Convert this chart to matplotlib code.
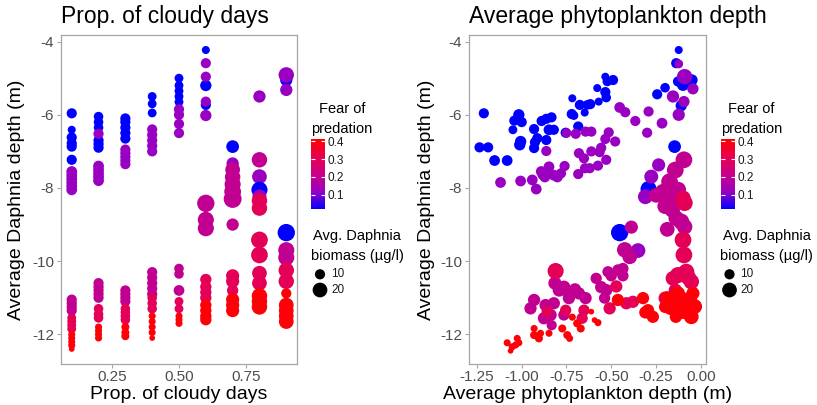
import numpy as np
import matplotlib
matplotlib.use('Agg')
import matplotlib.pyplot as plt
from matplotlib.colors import LinearSegmentedColormap, Normalize
from matplotlib.cm import ScalarMappable

plt.rcParams['font.family'] = ['Liberation Sans', 'DejaVu Sans']

# ---------------- data: left panel (by cloudy-days level) ----------------
cloudy_levels = [0.1, 0.2, 0.3, 0.4, 0.5, 0.6, 0.7, 0.8, 0.9]
cloudy_depth = [
    [-5.96, -6.41, -6.62, -6.78, -6.87, -7.23, -7.55, -7.65, -7.75, -7.85, -7.95, -8.05,
     -11.05, -11.15, -11.25, -11.35, -11.55, -11.65, -11.75, -11.85, -12.0, -12.1, -12.2, -12.3, -12.4],
    [-6.05, -6.2, -6.35, -6.7, -6.8, -6.9, -6.52, -7.4, -7.5, -7.6, -7.7, -7.8,
     -10.6, -10.7, -10.8, -10.9, -11.0, -11.3, -11.45, -11.55, -11.8, -11.9, -12.0, -12.1],
    [-6.1, -6.2, -6.35, -6.5, -6.65, -6.95, -7.05, -7.15, -7.25, -7.35,
     -10.8, -10.9, -11.0, -11.1, -11.3, -11.4, -11.5, -11.6, -11.8, -11.95, -12.05],
    [-5.5, -5.7, -5.95, -6.4, -6.55, -6.7, -6.85, -7.0,
     -10.3, -10.45, -10.6, -10.75, -10.9, -11.0, -11.15, -11.3, -11.5, -11.65, -11.8, -11.95, -12.1],
    [-5.0, -5.2, -5.35, -5.5, -5.65, -5.85, -6.0, -6.25, -6.5,
     -10.2, -10.35, -10.8, -11.1, -11.3, -11.5, -11.6, -11.7],
    [-4.23, -5.2, -5.73, -4.59, -4.96, -5.64, -6.02, -8.42, -8.87, -9.1,
     -10.5, -10.7, -10.85, -11.0, -11.2, -11.35, -11.5, -11.6],
    [-6.87, -7.33, -7.5, -7.7, -7.9, -8.1, -8.3, -9.0, -10.4, -10.55, -10.8, -11.05, -11.2, -11.35],
    [-5.5, -7.23, -7.69, -8.05, -8.23, -8.35, -8.55, -9.42, -9.83, -10.33, -10.6, -10.95, -11.1, -11.25],
    [-5.05, -4.91, -5.32, -9.22, -9.7, -9.9, -10.25, -10.55, -10.88, -11.2, -11.35, -11.5, -11.65],
]
cloudy_fear = [
    [0.02] * 6 + [0.12] * 6 + [0.2] * 4 + [0.3] * 4 + [0.4] * 5,
    [0.02] * 6 + [0.12] * 6 + [0.2] * 5 + [0.3] * 3 + [0.4] * 4,
    [0.02] * 5 + [0.12] * 5 + [0.2] * 4 + [0.3] * 4 + [0.4] * 3,
    [0.02] * 3 + [0.12] * 5 + [0.2] * 5 + [0.3] * 3 + [0.4] * 5,
    [0.02] * 5 + [0.12] * 4 + [0.2] * 3 + [0.3] * 2 + [0.4] * 3,
    [0.02] * 3 + [0.12] * 4 + [0.2] * 3 + [0.3] * 4 + [0.4] * 4,
    [0.02, 0.12, 0.2, 0.2, 0.2, 0.2, 0.2, 0.2, 0.3, 0.3, 0.3, 0.4, 0.4, 0.4],
    [0.12, 0.2, 0.12, 0.02, 0.12, 0.3, 0.3, 0.3, 0.3, 0.3, 0.3, 0.4, 0.4, 0.4],
    [0.02, 0.12, 0.12, 0.02, 0.2, 0.2, 0.3, 0.3, 0.4, 0.4, 0.4, 0.4, 0.4],
]
cloudy_bio = [
    [10, 7, 10, 10, 10, 10, 11, 11, 11, 11, 11, 11, 10, 10, 10, 10, 8, 8, 8, 8, 6, 6, 6, 6, 5],
    [9, 9, 9, 10, 10, 10, 10, 11, 11, 11, 11, 11, 10, 10, 10, 10, 10, 9, 9, 9, 6, 6, 6, 6],
    [10, 10, 10, 10, 10, 10, 10, 10, 10, 10, 10, 10, 10, 10, 9, 9, 9, 9, 7, 7, 7],
    [8, 8, 8, 10, 10, 10, 10, 10, 10, 10, 10, 10, 10, 9, 9, 9, 6, 6, 6, 6, 5],
    [8, 8, 8, 8, 8, 10, 10, 10, 10, 9, 9, 11, 8, 8, 6, 6, 6],
    [7, 12, 10, 10, 10, 10, 12, 28, 24, 24, 12, 12, 12, 12, 12, 12, 12, 12],
    [15, 14, 20, 22, 24, 26, 30, 14, 16, 16, 12, 16, 16, 16],
    [14, 22, 20, 24, 18, 22, 22, 26, 26, 20, 20, 22, 22, 22],
    [14, 22, 14, 28, 24, 24, 22, 22, 10, 20, 20, 20, 20],
]

# ---------------- data: right panel (by fear band) ----------------
band_fear = [0.02, 0.12, 0.2, 0.3, 0.4]
phyto_x = [
    [-1.21, -1.234, -1.186, -1.15, -1.08, -1.015, -1.04, -0.999, -1.048, -1.005, -1.01, -0.93, -0.925, -0.93,
     -0.912, -0.888, -0.862, -0.833, -0.847, -0.82, -0.862, -0.754, -0.717, -0.72, -0.708, -0.675, -0.648,
     -0.634, -0.684, -0.124, -0.138, -0.533, -0.49, -0.522, -0.578, -0.533, -0.528, -0.57, -0.617, -0.2,
     -0.244, -0.1, -0.05, -0.128, -0.11, -0.147, -0.292, -0.453],
    [-0.862, -1.117, -1.005, -0.94, -0.918, -0.881, -0.847, -0.89, -0.87, -0.85, -0.82, -0.80, -0.78, -0.76,
     -0.698, -0.643, -0.68, -0.652, -0.684, -0.646, -0.749,
     -0.091, -0.124, -0.045, -0.156, -0.095, -0.124, -0.453, -0.422, -0.366, -0.292, -0.217, -0.30, -0.611,
     -0.514, -0.533, -0.478, -0.556, -0.565, -0.611, -0.528, -0.574, -0.62, -0.236, -0.277, -0.31, -0.351],
    [-0.095, -0.143, -0.175, -0.128, -0.212, -0.25, -0.14, -0.17, -0.188, -0.11, -0.091, -0.138, -0.2, -0.16,
     -0.388, -0.425, -0.397, -0.518, -0.463, -0.435, -0.584, -0.5, -0.435, -0.556, -0.528, -0.537,
     -0.814, -0.79, -0.764, -0.736, -0.702, -0.68, -0.736, -0.643, -0.93, -0.95, -0.866, -0.82, -0.875,
     -0.838, -0.764, -0.832],
    [-0.81, -0.857, -0.754, -0.652, -0.662, -0.472, -0.509, -0.416, -0.379, -0.1, -0.091, -0.1, -0.095,
     -0.128, -0.082, -0.054, -0.156, -0.2, -0.143, -0.07],
    [-0.717, -0.69, -0.67, -0.773, -0.745, -0.732, -0.93, -0.93, -0.903, -0.894, -0.847, -1.08, -1.052,
     -1.024, -1.015, -1.061, -1.033, -0.463, -0.323, -0.295, -0.268, -0.611, -0.593, -0.574, -0.31,
     -0.188, -0.15, -0.17, -0.128, -0.091, -0.045, -0.035, -0.073, -0.14, -0.054, -0.11, -0.06, -0.1, -0.2],
]
phyto_depth = [
    [-5.96, -6.89, -6.89, -7.25, -7.25, -6.0, -6.16, -6.2, -6.41, -6.73, -6.82, -6.39, -6.75, -6.91,
     -6.64, -6.17, -6.11, -6.07, -6.41, -6.41, -6.69, -6.49, -5.55, -5.98, -6.02, -5.73, -5.94,
     -5.73, -6.32, -4.23, -4.59, -4.96, -5.05, -5.09, -5.27, -5.38, -5.53, -5.64, -5.71, -5.26,
     -5.44, -5.18, -5.05, -5.09, -5.75, -6.87, -8.03, -9.22],
    [-6.99, -7.85, -7.81, -7.78, -8.03, -7.64, -7.42, -7.55, -7.7, -7.6, -7.65, -7.7, -7.6, -7.4,
     -6.52, -6.46, -7.05, -7.19, -7.62, -7.46, -6.5,
     -4.96, -4.61, -5.29, -5.5, -5.64, -6.0, -5.8, -5.93, -6.17, -5.91, -6.23, -6.49, -6.46,
     -6.48, -6.66, -6.73, -6.9, -7.02, -7.0, -7.23, -7.39, -7.46, -7.37, -7.69, -8.24, -9.71],
    [-7.23, -7.51, -7.83, -8.05, -8.1, -8.2, -8.15, -8.3, -9.13, -8.92, -9.06, -8.83, -8.5, -8.6,
     -9.07, -9.69, -9.88, -10.29, -10.24, -10.2, -10.47, -10.4, -10.4, -10.71, -10.79, -11.01,
     -10.6, -10.79, -10.71, -10.88, -10.77, -10.88, -11.01, -11.01, -11.06, -11.29, -11.2, -11.15, -11.56,
     -11.47, -11.47, -11.75],
    [-10.27, -11.38, -11.34, -11.34, -11.56, -10.69, -11.29, -11.15, -11.11, -8.28, -8.41, -9.42, -9.83,
     -10.38, -10.29, -10.56, -10.47, -11.01, -10.79, -10.45],
    [-11.53, -11.7, -11.84, -11.84, -12.02, -12.11, -11.84, -12.02, -12.11, -11.97, -11.97, -12.23, -12.34,
     -12.11, -12.23, -12.45, -12.29, -11.06, -11.01, -11.34, -11.52, -11.38, -11.61, -11.68, -11.4,
     -11.0, -11.06, -11.29, -10.88, -11.06, -10.88, -11.24, -11.34, -11.52, -11.52, -11.24, -11.1, -11.4, -11.25],
]
phyto_bio = [
    [10, 10, 10, 11, 11, 12, 10, 10, 8, 12, 12, 10, 10, 10, 10, 10, 10, 10, 11, 10, 10, 10, 7, 10, 8, 10, 7,
     9, 10, 7, 10, 7, 10, 9, 7, 10, 9, 7, 10, 9, 10, 14, 12, 10, 12, 15, 24, 28],
    [10, 11, 11, 11, 11, 11, 11, 11, 11, 11, 11, 11, 10, 10, 10, 10, 10, 10, 10, 10, 9,
     22, 8, 12, 14, 12, 14, 11, 10, 10, 10, 11, 10, 10, 10, 10, 10, 10, 10, 10, 10, 10, 10, 16, 18, 20, 20],
    [26, 26, 26, 24, 22, 20, 24, 22, 20, 24, 22, 22, 22, 22,
     16, 22, 20, 12, 12, 12, 12, 12, 12, 14, 14, 12,
     16, 16, 16, 14, 14, 14, 14, 14, 14, 14, 14, 14, 14, 14, 12, 10],
    [24, 12, 12, 12, 12, 14, 14, 14, 14, 22, 24, 26, 26, 24, 24, 22, 20, 16, 16, 22],
    [6, 7, 7, 7, 7, 6, 6, 7, 7, 6, 6, 6, 6, 6, 6, 5, 6, 14, 14, 14, 14, 5, 5, 6, 14,
     16, 18, 16, 18, 20, 16, 20, 20, 14, 20, 20, 20, 16, 14],
]

size_breaks = [10, 20]
fear_ticks = [0.1, 0.2, 0.3, 0.4]

# ---------------- scales ----------------
# blue -> red gradient (ggplot style, interpolated through purple)
cmap = LinearSegmentedColormap.from_list(
    'fear', [(0, '#0000ff'), (0.25, '#9900c2'), (0.5, '#c80088'), (0.75, '#e80050'), (1, '#ff0000')])
norm = Normalize(0.02, 0.41)


def point_area(b):
    t = np.clip((np.asarray(b, dtype=float) - 4.3) / (37 - 4.3), 0, 1)
    diam_px = 3.3 * (1 + 5 * np.sqrt(t))
    return (diam_px * 0.72) ** 2


W, H = 817, 405
fig = plt.figure(figsize=(W / 100, H / 100), dpi=100)


def px_rect(x0, y0, x1, y1):
    return [x0 / W, 1 - y1 / H, (x1 - x0) / W, (y1 - y0) / H]


def style_axes(ax, title, xlabel, ylabel_x):
    for s in ax.spines.values():
        s.set_color('#a6a6a6')
        s.set_linewidth(0.9)
    ax.tick_params(length=3, width=0.8, color='#a6a6a6', labelcolor='#4d4d4d', labelsize=11)
    ax.tick_params(axis='y', pad=2)
    ax.tick_params(axis='x', pad=1.5)
    ax.set_ylim(-12.81, -3.82)
    ax.set_yticks([-12, -10, -8, -6, -4])
    ax.set_yticklabels(['-12', '-10', '-8', '-6', '-4'])
    ax.set_title(title, loc='left', fontsize=16.5, pad=9)
    ax.set_xlabel(xlabel, fontsize=14)
    ax.xaxis.set_label_coords(0.5, -0.093)
    ax.xaxis.label.set_va('center')
    ax.set_ylabel('Average Daphnia depth (m)', fontsize=14)
    ax.yaxis.set_label_coords(ylabel_x, 0.5)
    ax.yaxis.label.set_va('center')


# ---------------- left panel ----------------
ax1 = fig.add_axes(px_rect(61, 35, 297, 364))
cx, cy, cf, cb = [], [], [], []
for lvl, d, f, b in zip(cloudy_levels, cloudy_depth, cloudy_fear, cloudy_bio):
    cx += [lvl] * len(d)
    cy += d
    cf += f
    cb += b
ax1.scatter(cx, cy, s=point_area(cb), c=cf, cmap=cmap, norm=norm, linewidths=0)
ax1.set_xlim(0.06, 0.94)
ax1.set_xticks([0.25, 0.5, 0.75])
ax1.set_xticklabels(['0.25', '0.50', '0.75'])
style_axes(ax1, 'Prop. of cloudy days', 'Prop. of cloudy days', -0.188)

# ---------------- right panel ----------------
ax2 = fig.add_axes(px_rect(469.3, 35, 706, 364))
px_all, py_all, pf_all, pb_all = [], [], [], []
for f, xs, ys, bs in zip(band_fear, phyto_x, phyto_depth, phyto_bio):
    px_all += xs
    py_all += ys
    pf_all += [f] * len(xs)
    pb_all += bs
ax2.scatter(px_all, py_all, s=point_area(pb_all), c=pf_all, cmap=cmap, norm=norm, linewidths=0)
ax2.set_xlim(-1.291, 0.028)
xt = [-1.25, -1.0, -0.75, -0.5, -0.25, 0.0]
ax2.set_xticks(xt)
ax2.set_xticklabels(['-1.25', '-1.00', '-0.75', '-0.50', '-0.25', '0.00'])
style_axes(ax2, 'Average phytoplankton depth', 'Average phytoplankton depth (m)', -0.18)

# ---------------- legends ----------------
overlay = fig.add_axes([0, 0, 1, 1])
overlay.set_xlim(0, W)
overlay.set_ylim(H, 0)
overlay.axis('off')
overlay.patch.set_visible(False)

for off in [0, 409.5]:
    cax = fig.add_axes(px_rect(311 + off, 139.3, 325 + off, 209.3))
    cb_ = fig.colorbar(ScalarMappable(norm=norm, cmap=cmap), cax=cax, ticks=fear_ticks)
    cb_.outline.set_visible(False)
    cax.tick_params(direction='in', color='white', length=2.8, width=0.8, left=True, right=True,
                    labelleft=False, labelright=True, labelsize=8.5, pad=2, labelcolor='#1a1a1a')
    cax.set_yticklabels([f'{t:.1f}' for t in fear_ticks])

    overlay.text(319 + off, 113.3, 'Fear of', fontsize=10.5, ha='left', va='baseline')
    overlay.text(311.5 + off, 133.5, 'predation', fontsize=10.5, ha='left', va='baseline')
    overlay.text(313.5 + off, 240, 'Avg. Daphnia', fontsize=10.5, ha='left', va='baseline')
    overlay.text(311 + off, 260, 'biomass (\u00b5g/l)', fontsize=10.5, ha='left', va='baseline')
    key_y = [274.3, 290]
    overlay.scatter([320 + off] * 2, key_y, s=point_area(size_breaks), color='black', linewidths=0)
    for yk, lab in zip(key_y, size_breaks):
        overlay.text(331 + off, yk, str(lab), fontsize=8.5, ha='left', va='center', color='#1a1a1a')

fig.savefig('out.png', dpi=100)
